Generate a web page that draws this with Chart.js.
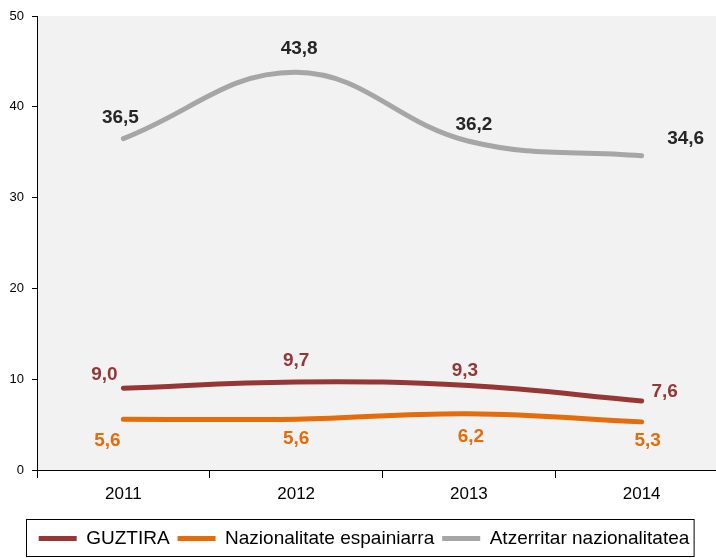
<!DOCTYPE html>
<html>
<head>
<meta charset="utf-8">
<script src="https://cdn.jsdelivr.net/npm/chart.js@4/dist/chart.umd.min.js"></script>
<style>
  html, body { margin: 0; padding: 0; background: #fff; overflow: hidden; }
  #wrap { width: 730px; height: 558px; }
</style>
</head>
<body>
<div id="wrap"><canvas id="myChart" width="730" height="558"></canvas></div>
<script>
const years = ['2011', '2012', '2013', '2014'];
const guztira = [9.0, 9.7, 9.3, 7.6];
const espainiarra = [5.6, 5.6, 6.2, 5.3];
const atzerritar = [36.5, 43.8, 36.2, 34.6];
const yTicks = [0, 10, 20, 30, 40, 50];

// label offsets relative to each point
const labelOffsets = [
    [[-19, -14], [0, -21], [-4, -15], [23, -9]],
    [[-16, 22], [0, 20], [2, 23], [6, 19]],
    [[-3, -21], [3, -24], [5, -17], [44, -17]]
];
const labelColors = ['#953735', '#E46C0A', '#262626'];

const bgPlugin = {
    id: 'plotBg',
    beforeDraw(chart) {
        const a = chart.chartArea;
        const ctx = chart.ctx;
        ctx.save();
        ctx.fillStyle = '#f2f2f2';
        ctx.fillRect(a.left, a.top, a.right - a.left, a.bottom - a.top);
        ctx.restore();
    }
};

const valueLabels = {
    id: 'valueLabels',
    afterDatasetsDraw(chart) {
        const ctx = chart.ctx;
        ctx.save();
        ctx.font = 'bold 19px "Liberation Sans", Arial, sans-serif';
        ctx.textAlign = 'center';
        ctx.textBaseline = 'middle';
        chart.data.datasets.forEach((ds, i) => {
            chart.getDatasetMeta(i).data.forEach((pt, j) => {
                let off = labelOffsets[i][j];
                ctx.fillStyle = labelColors[i];
                ctx.fillText(ds.data[j].toFixed(1).replace('.', ','), pt.x + off[0], pt.y + off[1]);
            });
        });
        ctx.restore();
    }
};

const legendBox = {
    id: 'legendBox',
    afterDraw(chart) {
        const boxes = chart.legend.legendHitBoxes;
        if (!boxes || !boxes.length) return;
        let left = Math.min(...boxes.map(b => b.left));
        let right = Math.max(...boxes.map(b => b.left + b.width));
        let mid = boxes[0].top + boxes[0].height / 2;
        const ctx = chart.ctx;
        ctx.save();
        ctx.strokeStyle = '#000';
        ctx.lineWidth = 1;
        ctx.strokeRect(Math.round(left) - 12.5, Math.round(mid) - 19.5, right - left + 17, 37);
        ctx.restore();
    }
};

function lineSet(label, data, color) {
    return {
        label: label,
        data: data,
        borderColor: color,
        backgroundColor: color,
        borderWidth: 5,
        borderCapStyle: 'round',
        borderJoinStyle: 'round',
        pointRadius: 0,
        pointHoverRadius: 0,
        tension: 0.4,
        fill: false
    };
}

var ctx = document.getElementById('myChart').getContext('2d');
var myChart = new Chart(ctx, {
    type: 'line',
    data: {
        labels: years,
        datasets: [
            lineSet('GUZTIRA', guztira, '#953735'),
            lineSet('Nazionalitate espainiarra', espainiarra, '#E46C0A'),
            lineSet('Atzerritar nazionalitatea', atzerritar, '#A6A6A6')
        ]
    },
    options: {
        responsive: false,
        animation: false,
        layout: { padding: { top: 16, right: 2, left: 0, bottom: 0 } },
        plugins: {
            tooltip: { enabled: false },
            legend: {
                position: 'bottom',
                labels: {
                    usePointStyle: true,
                    pointStyle: 'line',
                    pointStyleWidth: 38,
                    boxHeight: 18,
                    padding: 8,
                    color: '#000',
                    font: { family: '"Liberation Sans", Arial, sans-serif', size: 19 }
                }
            }
        },
        scales: {
            x: {
                offset: true,
                afterFit(scale) { scale.height = 51; },
                grid: { offset: true, drawOnChartArea: false, tickLength: 8, color: '#000' },
                border: { display: true, color: '#000', width: 1 },
                ticks: {
                    color: '#000',
                    padding: 6,
                    font: { family: '"Liberation Sans", Arial, sans-serif', size: 17 }
                }
            },
            y: {
                min: 0,
                max: 50,
                afterFit(scale) { scale.width = 37; },
                afterBuildTicks(scale) { scale.ticks = yTicks.map(v => ({ value: v })); },
                grid: { drawOnChartArea: false, tickLength: 5, color: '#000' },
                border: { display: true, color: '#000', width: 1 },
                ticks: {
                    color: '#000',
                    padding: 8,
                    font: { family: '"Liberation Sans", Arial, sans-serif', size: 13 }
                }
            }
        }
    },
    plugins: [bgPlugin, valueLabels, legendBox]
});
</script>
</body>
</html>
